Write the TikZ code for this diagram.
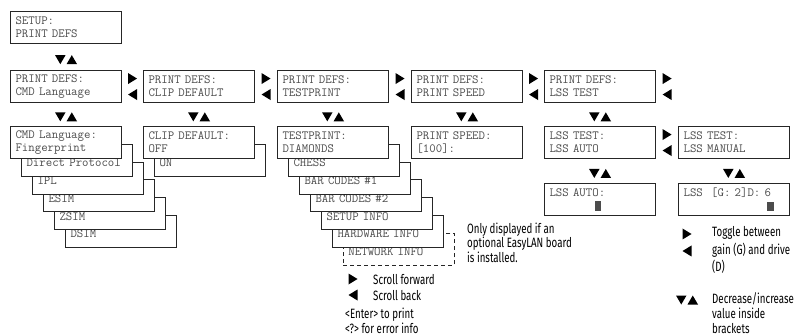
\documentclass[tikz,border=0pt]{standalone}
\usepackage{fontspec}
\newfontfamily\legendfont{Fira Sans}[FakeStretch=0.72]
\usetikzlibrary{calc}
\begin{document}
\begin{tikzpicture}[x=1pt,y=-1pt,
  lcd/.style={draw=black!85,line width=1.1pt,fill=white,anchor=north west,minimum height=32pt,
    inner xsep=5pt,inner ysep=0pt,text width=101pt,align=left,text=black!70,
    font=\fontsize{12.5}{13}\selectfont\ttfamily},
  note/.style={anchor=base west,inner sep=0pt,align=left,font=\fontsize{13.5}{#1}\selectfont\legendfont},
  note/.default=13,
  pics/fwd/.style={code={\fill (-4.5,-5.5) -- (4.5,0) -- (-4.5,5.5) -- cycle;}},
  pics/back/.style={code={\fill (4.5,-5.5) -- (-4.5,0) -- (4.5,5.5) -- cycle;}},
  pics/fwdback/.style={code={\fill (-4.5,-13.5) -- (4.5,-8) -- (-4.5,-2.5) -- cycle;
      \fill (4.5,2.5) -- (-4.5,8) -- (4.5,13.5) -- cycle;}},
  pics/downup/.style={code={\fill (-11,-4.5) -- (-0.5,-4.5) -- (-5.75,4.5) -- cycle;
      \fill (0.5,4.5) -- (11,4.5) -- (5.75,-4.5) -- cycle;}}]
\useasboundingbox (0,0) rectangle (799,336);
% top level
\node[lcd] (setup) at (10,11) {SETUP:\\PRINT DEFS};
% PRINT DEFS row
\node[lcd] (cmdlang) at (10,70) {PRINT DEFS:\\CMD Language};
\node[lcd] (clip) at (143,70) {PRINT DEFS:\\CLIP DEFAULT};
\node[lcd] (testprint) at (277,70) {PRINT DEFS:\\TESTPRINT};
\node[lcd] (speed) at (411,70) {PRINT DEFS:\\PRINT SPEED};
\node[lcd] (lss) at (544,70) {PRINT DEFS:\\LSS TEST};
% stacked choices, back ones first
\foreach \i/\t in {5/DSIM,4/ZSIM,3/ESIM,2/IPL,1/Direct Protocol} \node[lcd] (cmd\i) at (10+11*\i,126+17.8*\i) {\mbox{}\\\t};
\node[lcd] (fingerprint) at (10,126) {CMD Language:\\Fingerprint};
\node[lcd] (clipon) at (154,143.8) {\mbox{}\\ON};
\node[lcd] (clipoff) at (143,126) {CLIP DEFAULT:\\OFF};
\node[lcd,dashed,dash pattern=on 4pt off 3pt,line width=0.9pt] (net) at (343,232.8) {\mbox{}\\NETWORK INFO};
\foreach \i/\t in {5/HARDWARE INFO,4/SETUP INFO,3/BAR CODES \#2,2/BAR CODES \#1,1/CHESS} \node[lcd] (test\i) at (277+11*\i,126+17.8*\i) {\mbox{}\\\t};
\node[lcd] (diamonds) at (277,126) {TESTPRINT:\\DIAMONDS};
\node[lcd] (speedval) at (411,126) {PRINT SPEED:\\{}[100]:};
\node[lcd] (lssauto) at (544,126) {LSS TEST:\\LSS AUTO};
\node[lcd] (lssmanual) at (678,126) {LSS TEST:\\LSS MANUAL};
\node[lcd] (autoval) at (544,183) {LSS AUTO:\\\phantom{0000000}\rule[-1.5pt]{6.5pt}{9.5pt}};
\node[lcd] (manualval) at (678,183) {LSS~~[G:~2]D:~6\\\phantom{0000000000000}\rule[-1.5pt]{6.5pt}{9.5pt}};
% scroll keys
\foreach \a/\b in {cmdlang/clip,clip/testprint,testprint/speed,speed/lss,lssauto/lssmanual} \pic at ($(\a.east)!.5!(\b.west)$) {fwdback};
\pic at ($(lss.east)+(11,0)$) {fwdback};
\foreach \a/\b in {setup/cmdlang,cmdlang/fingerprint,clip/clipoff,testprint/diamonds,speed/speedval,lss/lssauto,lssauto/autoval,lssmanual/manualval} \pic at ($(\a.south)!.6!(\b.north)$) {downup};
% notes (base = last line)
\node[note] (netnote) at (467,262) {Only displayed if an\\optional EasyLAN board\\is installed.};
\pic at (353,279) {fwd}; \node[note] (fwdnote) at (373,284) {Scroll forward};
\pic at (353,295) {back}; \node[note] (backnote) at (373,300) {Scroll back};
\node[note=15] (enternote) at (345,333.5) {<Enter> to print\\<?> for error info};
\pic at (687,234) {fwd}; \pic at (687,251) {back};
\node[note=17.5] (togglenote) at (712,271.5) {Toggle between\\gain (G) and drive\\(D)};
\pic at (687,300) {downup};
\node[note=15] (valnote) at (712,333) {Decrease/increase\\value inside\\brackets};
\end{tikzpicture}
\end{document}
